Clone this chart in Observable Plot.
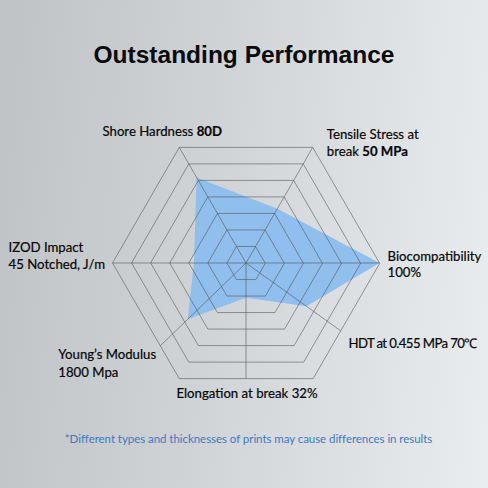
<!DOCTYPE html>
<html><head><meta charset="utf-8">
<script src="https://cdn.jsdelivr.net/npm/d3@7"></script>
<script src="https://cdn.jsdelivr.net/npm/@observablehq/plot@0.6"></script>
<style>
html,body{margin:0;padding:0;}
#wrap{width:488px;height:488px;position:relative;overflow:hidden;
  background:linear-gradient(95deg,#bfc3c6 0%,#cfd2d5 40%,#e1e4e7 80%,#eaedf0 100%);}
#title{height:80px;box-sizing:border-box;padding-top:40px;line-height:30px;text-align:center;
  font-family:"Liberation Sans",Arial,sans-serif;font-weight:bold;font-size:24.5px;color:#0a0a0a;}
#chart svg{display:block;background:none;}
#foot{padding-top:11px;padding-left:9px;line-height:16px;text-align:center;font-family:Lato,"Open Sans",sans-serif;
  font-size:11.5px;color:#3f78c0;letter-spacing:-0.05px;}
</style></head><body>
<div id="wrap">
  <div id="title">Outstanding Performance</div>
  <div id="chart"></div>
  <div id="foot">*Different types and thicknesses of prints may cause differences in results</div>
</div>
<script>
// ---- data ----
const axes = ["IZOD Impact", "Shore Hardness", "Tensile Stress", "Biocompatibility", "HDT", "Elongation", "Young's Modulus"];
const values = [0.39, 0.74, 0.47, 1.0, 0.64, 0.30, 0.68]; // fraction of spoke length
const axisAngles = [180, 120, 60, 0, -35.6, -90, -136];   // spoke directions (deg)
const ringLevels = [1, 2, 3, 4, 5, 6, 7];
const hexAngles = [0, 60, 120, 180, 240, 300];
const labelTexts = [
  "IZOD Impact\n45 Notched, J/m",
  "Shore Hardness 80D",
  "Tensile Stress at\nbreak 50 MPa",
  "Biocompatibility\n100%",
  "HDT at 0.455 MPa 70℃",
  "Elongation at break 32%",
  "Young’s Modulus\n1800 Mpa"
];
const boldParts = ["80D", "50 MPa"];

// ---- label layout ----
const labelLayout = [
  {anchor: "start", dx: -104, dy: -8, lh: 1.27, ls: 0},
  {anchor: "middle", dx: -17, dy: -16, lh: 1.2, ls: 0},
  {anchor: "start", dx: 14, dy: -5.5, lh: 1.33, ls: 0},
  {anchor: "start", dx: 8, dy: 0.5, lh: 1.2, ls: 0},
  {anchor: "start", dx: 8, dy: 12, lh: 1.2, ls: -0.6},
  {anchor: "middle", dx: 1, dy: 14, lh: 1.2, ls: 0},
  {anchor: "start", dx: -102, dy: 16, lh: 1.38, ls: 0}
];

// ---- geometry ----
const rad = d => d * Math.PI / 180;
const nRings = ringLevels.length;
const edgeDist = a => {
  const n = Math.round((a - 30) / 60) * 60 + 30;
  return (Math.sqrt(3) / 2) / Math.cos(rad(a - n));
};
const ringPts = ringLevels.flatMap(l => hexAngles.map(a => ({
  ring: l, x: (l / nRings) * Math.cos(rad(a)), y: (l / nRings) * Math.sin(rad(a))
})));
const spokes = axes.map((name, i) => {
  const L = edgeDist(axisAngles[i]);
  return {name, x1: 0, y1: 0, x2: L * Math.cos(rad(axisAngles[i])), y2: L * Math.sin(rad(axisAngles[i]))};
});
const poly = axes.map((name, i) => {
  const L = edgeDist(axisAngles[i]) * values[i];
  return {name, x: L * Math.cos(rad(axisAngles[i])), y: L * Math.sin(rad(axisAngles[i]))};
});

const R = 133.5, cx = 245.5, cy = 182.5, H = 340;
const labelMarks = labelTexts.map((t, i) => Plot.text([spokes[i]], {
  x: "x2", y: "y2", text: () => t,
  textAnchor: labelLayout[i].anchor, lineAnchor: "middle",
  dx: labelLayout[i].dx, dy: labelLayout[i].dy, lineHeight: labelLayout[i].lh,
  fontSize: 13.2, fill: "#050505", stroke: "#050505", strokeWidth: 0.2,
  fontFamily: "Lato, 'Open Sans', sans-serif",
  className: "lbl lbl" + i
}));

const chart = Plot.plot({
  width: 488, height: H,
  margin: 0,
  style: {background: "none", overflow: "visible"},
  x: {domain: [-1, 1], range: [cx - R, cx + R], axis: null},
  y: {domain: [-1, 1], range: [cy + R, cy - R], axis: null},
  marks: [
    Plot.line(poly, {x: "x", y: "y", curve: "linear-closed", fill: "#8cbdee", fillOpacity: 0.95, stroke: "none"}),
    Plot.line(ringPts, {x: "x", y: "y", z: "ring", curve: "linear-closed", stroke: "#4d4f52", strokeWidth: 0.7, strokeOpacity: 0.8}),
    Plot.link(spokes, {x1: "x1", y1: "y1", x2: "x2", y2: "y2", stroke: "#4d4f52", strokeWidth: 0.7, strokeOpacity: 0.8}),
    ...labelMarks
  ]
});
document.getElementById("chart").append(chart);

// letter spacing + bold parts of labels
const NS = "http://www.w3.org/2000/svg";
labelLayout.forEach((l, i) => {
  if (l.ls) chart.querySelectorAll("g.lbl" + i + " text").forEach(el => el.style.letterSpacing = l.ls + "px");
});
chart.querySelectorAll("g.lbl text").forEach(el => {
  const spans = el.querySelectorAll("tspan");
  const targets = spans.length ? Array.from(spans) : [el];
  targets.forEach(t => {
    const s = t.textContent;
    const b = boldParts.find(p => s.includes(p));
    if (!b) return;
    const i = s.indexOf(b);
    t.textContent = "";
    const a = document.createElementNS(NS, "tspan"); a.textContent = s.slice(0, i);
    const c = document.createElementNS(NS, "tspan"); c.textContent = b; c.setAttribute("font-weight", "bold");
    t.append(a, c);
    const rest = s.slice(i + b.length);
    if (rest) { const d = document.createElementNS(NS, "tspan"); d.textContent = rest; t.append(d); }
  });
});
</script>
</body></html>
